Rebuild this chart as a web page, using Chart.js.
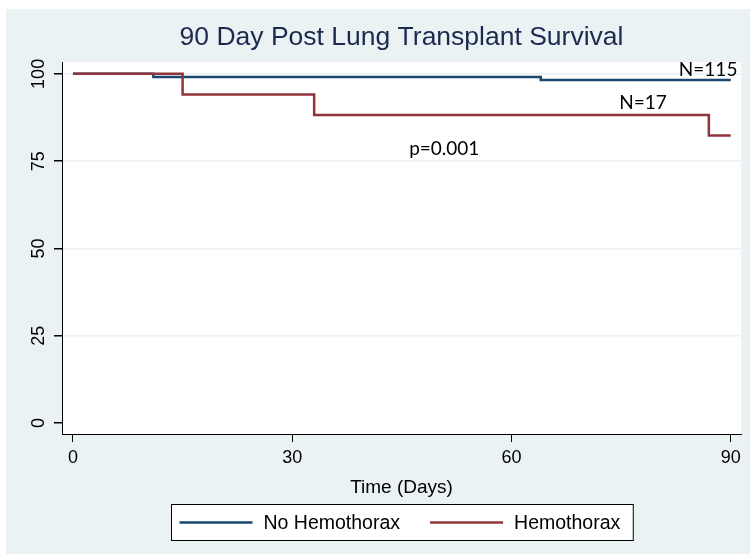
<!DOCTYPE html>
<html>
<head>
<meta charset="utf-8">
<script src="https://cdn.jsdelivr.net/npm/chart.js@4"></script>
<style>
  html, body { margin: 0; padding: 0; background: #fff; }
  #wrap { width: 750px; height: 555px; }
</style>
</head>
<body>
<div id="wrap"><canvas id="km" width="750" height="555"></canvas></div>
<script>
// Kaplan-Meier steps (day, survival %)
const noHemoDays = [0, 11, 64, 90];
const noHemoSurv = [100, 99.13, 98.26, 98.26];
const hemoDays = [0, 15, 33, 87, 90];
const hemoSurv = [100, 94.12, 88.24, 82.35, 82.35];

const seriesLabels = ['No Hemothorax', 'Hemothorax'];
const seriesColors = ['#1a476f', '#90353b'];

const xTicks = [0, 30, 60, 90];
const yTicks = [0, 25, 50, 75, 100];

// text notes placed in data coordinates
const notes = [
  { text: 'N=115', x: 86.9, y: 101.1 },
  { text: 'N=17', x: 78.0, y: 91.7 },
  { text: 'p=0.001', x: 50.8, y: 78.6 }
];

const chartTitle = '90 Day Post Lung Transplant Survival';
const xTitle = 'Time (Days)';

const SANS = "'Liberation Sans', Arial, sans-serif";
const PANEL = '#eaf2f3';

const toPoints = (xs, ys) => xs.map((x, i) => ({ x: x, y: ys[i] }));

const stataLook = {
  id: 'stataLook',
  beforeDraw(chart) {
    const ctx = chart.ctx;
    const a = chart.chartArea;
    ctx.save();
    ctx.fillStyle = '#fff';
    ctx.fillRect(0, 0, chart.width, chart.height);
    ctx.fillStyle = PANEL;
    ctx.fillRect(6, 9, chart.width - 6, 545);
    ctx.fillStyle = '#fff';
    ctx.fillRect(a.left, a.top, a.right - a.left, a.bottom - a.top);
    ctx.restore();
  },
  afterDraw(chart) {
    const ctx = chart.ctx;
    const a = chart.chartArea;
    const xs = chart.scales.x, ys = chart.scales.y;
    const cx = (a.left + a.right) / 2;
    ctx.save();

    // title
    ctx.fillStyle = '#1c2a4e';
    ctx.font = '26.5px ' + SANS;
    ctx.textAlign = 'center';
    ctx.textBaseline = 'middle';
    ctx.fillText(chartTitle, cx, 38);

    // rotated y tick labels
    ctx.fillStyle = '#000';
    ctx.font = '18px ' + SANS;
    yTicks.forEach(v => {
      ctx.save();
      ctx.translate(39, ys.getPixelForValue(v));
      ctx.rotate(-Math.PI / 2);
      ctx.fillText(String(v), 0, 0);
      ctx.restore();
    });

    // notes
    ctx.font = "19px Lato, 'Open Sans', sans-serif";
    notes.forEach(n => {
      ctx.fillText(n.text, xs.getPixelForValue(n.x), ys.getPixelForValue(n.y));
    });

    // legend with outline
    ctx.font = '19.5px ' + SANS;
    const w1 = ctx.measureText(seriesLabels[0]).width;
    const w2 = ctx.measureText(seriesLabels[1]).width;
    const sw = 73;
    const total = 8 + sw + 11 + w1 + 30 + sw + 11 + w2 + 13;
    const bx = Math.round(cx - total / 2) + 0.5;
    const by = 504.5, bh = 36;
    ctx.fillStyle = '#fff';
    ctx.fillRect(bx, by, total, bh);
    ctx.strokeStyle = '#000';
    ctx.lineWidth = 1;
    ctx.strokeRect(bx, by, total, bh);
    const my = by + bh / 2;
    let px = bx + 8;
    ctx.textAlign = 'left';
    ctx.lineWidth = 2.5;
    [0, 1].forEach(i => {
      ctx.strokeStyle = seriesColors[i];
      ctx.beginPath();
      ctx.moveTo(px, my);
      ctx.lineTo(px + sw, my);
      ctx.stroke();
      px += sw + 11;
      ctx.fillStyle = '#000';
      ctx.fillText(seriesLabels[i], px, my + 1);
      px += (i === 0 ? w1 : w2) + 30;
    });
    ctx.restore();
  }
};

new Chart(document.getElementById('km'), {
  type: 'line',
  data: {
    datasets: [
      {
        label: seriesLabels[0],
        data: toPoints(noHemoDays, noHemoSurv),
        borderColor: seriesColors[0],
        borderWidth: 2.5,
        stepped: 'before',
        pointRadius: 0,
        fill: false,
        order: 1
      },
      {
        label: seriesLabels[1],
        data: toPoints(hemoDays, hemoSurv),
        borderColor: seriesColors[1],
        borderWidth: 2.5,
        stepped: 'before',
        pointRadius: 0,
        fill: false,
        order: 0
      }
    ]
  },
  options: {
    responsive: false,
    animation: false,
    devicePixelRatio: 1,
    layout: { padding: { top: 62, right: 9, bottom: 0, left: 0 } },
    plugins: {
      legend: { display: false },
      title: { display: false },
      tooltip: { enabled: false }
    },
    scales: {
      x: {
        type: 'linear',
        min: -1.5,
        max: 91.4,
        afterBuildTicks: s => { s.ticks = xTicks.map(v => ({ value: v })); },
        afterFit: s => { s.height = 121; },
        grid: { drawOnChartArea: false, drawTicks: true, tickLength: 8, tickColor: '#000' },
        border: { color: '#000', width: 1 },
        ticks: { color: '#000', font: { family: SANS, size: 18 }, padding: 5, maxRotation: 0 },
        title: {
          display: true,
          text: xTitle,
          color: '#000',
          font: { family: SANS, size: 19 },
          padding: { top: 0, bottom: 56 }
        }
      },
      y: {
        type: 'linear',
        min: -3.15,
        max: 103.4,
        afterBuildTicks: s => { s.ticks = yTicks.map(v => ({ value: v })); },
        afterFit: s => { s.width = 62; },
        grid: {
          color: ctx => (ctx.tick && ctx.tick.value === 0 ? 'rgba(0,0,0,0)' : PANEL),
          lineWidth: 1.5,
          drawTicks: true,
          tickLength: 8,
          tickColor: '#000'
        },
        border: { color: '#000', width: 1 },
        ticks: { display: false }
      }
    }
  },
  plugins: [stataLook]
});
</script>
</body>
</html>
